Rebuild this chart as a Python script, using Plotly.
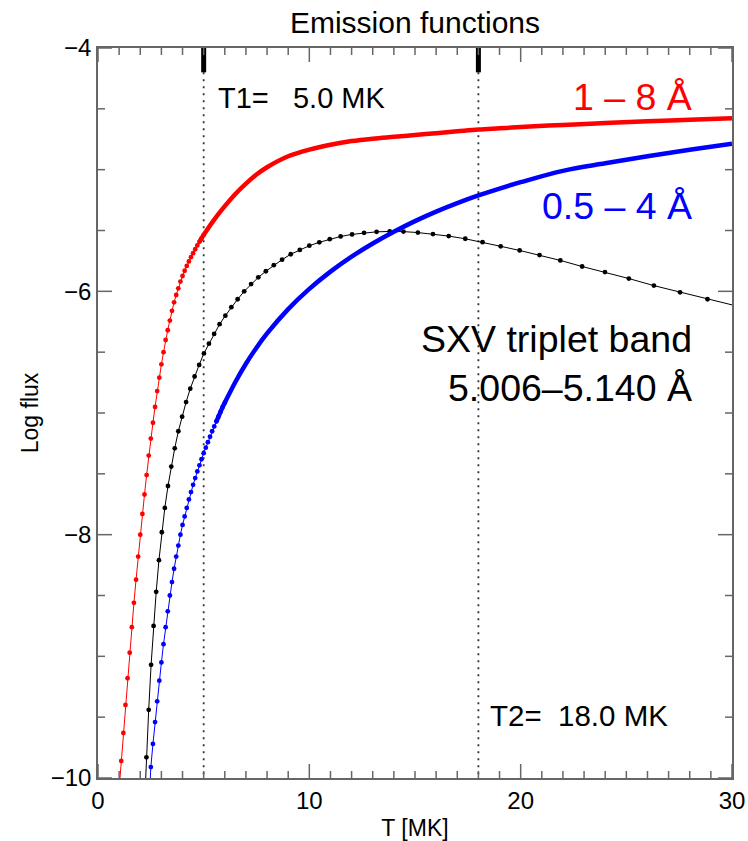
import plotly.graph_objects as go

# ---------------------------------------------------------------------------
# Emission functions: log flux vs temperature
# ---------------------------------------------------------------------------

# 1-8 A band (0.1 MK steps on the steep rise, coarser once the curve flattens)
red_T = [1.0, 1.1, 1.2, 1.3, 1.4, 1.5, 1.6, 1.7, 1.8, 1.9,
         2.0, 2.1, 2.2, 2.3, 2.4, 2.5, 2.6, 2.7, 2.8, 2.9,
         3.0, 3.1, 3.2, 3.3, 3.4, 3.5, 3.6, 3.7, 3.8, 3.9,
         4.0, 4.1, 4.2, 4.3, 4.4, 4.5, 4.6, 4.7, 4.8, 4.9,
         5.0, 5.5, 6.0, 6.5, 7.0, 7.5, 8.0, 9.0, 10.0, 11.0,
         12.0, 13.0, 14.0, 15.0, 16.0, 17.0, 18.0, 19.0, 20.0, 22.0,
         24.0, 26.0, 28.0, 30.0]
red_logflux = [-10.09, -9.86, -9.63, -9.40, -9.18, -8.97, -8.76, -8.56, -8.37, -8.18,
               -8.00, -7.83, -7.67, -7.51, -7.35, -7.21, -7.08, -6.95, -6.82, -6.71,
               -6.60, -6.50, -6.40, -6.32, -6.24, -6.16, -6.09, -6.03, -5.975, -5.92,
               -5.874, -5.831, -5.791, -5.754, -5.719, -5.686, -5.654, -5.623, -5.593, -5.564,
               -5.536, -5.41, -5.30, -5.20, -5.115, -5.04, -4.98, -4.89, -4.835, -4.795,
               -4.765, -4.745, -4.73, -4.715, -4.70, -4.685, -4.67, -4.66, -4.65, -4.632,
               -4.617, -4.603, -4.59, -4.578]

# 0.5-4 A band
blue_T = [2.4, 2.5, 2.6, 2.7, 2.8, 2.9, 3.0, 3.1, 3.2, 3.3,
          3.4, 3.5, 3.6, 3.7, 3.8, 3.9, 4.0, 4.1, 4.2, 4.3,
          4.4, 4.5, 4.6, 4.7, 4.8, 4.9, 5.0, 5.1, 5.2, 5.3,
          5.4, 5.5, 5.6, 5.7, 5.8, 5.9, 6.0, 6.5, 7.0, 7.5,
          8.0, 9.0, 10.0, 11.0, 12.0, 13.0, 14.0, 15.0, 16.0, 17.0,
          18.0, 19.0, 20.0, 22.0, 24.0, 26.0, 28.0, 30.0]
blue_logflux = [-10.30, -9.91, -9.72, -9.54, -9.37, -9.20, -9.05, -8.90, -8.76, -8.63,
                -8.50, -8.39, -8.28, -8.18, -8.09, -8.00, -7.92, -7.85, -7.78, -7.71,
                -7.65, -7.59, -7.535, -7.48, -7.43, -7.38, -7.33, -7.285, -7.24, -7.195,
                -7.15, -7.11, -7.07, -7.03, -6.99, -6.95, -6.915, -6.745, -6.595, -6.463,
                -6.346, -6.146, -5.98, -5.838, -5.715, -5.607, -5.51, -5.423, -5.345, -5.275,
                -5.212, -5.155, -5.103, -5.01, -4.948, -4.89, -4.836, -4.786]

# SXV triplet band 5.006-5.140 A (log T grid, 0.02 dex)
sxv_T = [2.188, 2.291, 2.399, 2.512, 2.630, 2.754, 2.884, 3.020, 3.162, 3.311,
         3.467, 3.631, 3.802, 3.981, 4.169, 4.365, 4.571, 4.786, 5.012, 5.248,
         5.495, 5.754, 6.026, 6.310, 6.607, 6.918, 7.244, 7.586, 7.943, 8.318,
         8.710, 9.120, 9.550, 10.000, 10.471, 10.965, 11.482, 12.023, 12.589, 13.183,
         13.804, 14.454, 15.136, 15.849, 16.596, 17.378, 18.197, 19.055, 19.953, 20.893,
         21.878, 22.909, 23.988, 25.119, 26.303, 27.542, 28.840, 30.200]
sxv_logflux = [-10.28, -9.83, -9.44, -9.07, -8.75, -8.47, -8.21, -7.98, -7.78, -7.60,
               -7.44, -7.29, -7.15, -7.03, -6.91, -6.80, -6.70, -6.605, -6.51, -6.43,
               -6.35, -6.27, -6.20, -6.13, -6.065, -6.00, -5.94, -5.885, -5.835, -5.785,
               -5.74, -5.695, -5.66, -5.625, -5.597, -5.571, -5.549, -5.532, -5.519, -5.511,
               -5.508, -5.509, -5.517, -5.529, -5.546, -5.568, -5.596, -5.630, -5.664, -5.702,
               -5.746, -5.796, -5.842, -5.895, -5.953, -6.008, -6.065, -6.12]

# Marked temperatures (MK)
T1 = 5.0
T2 = 18.0

x_ticks = [0, 10, 20, 30]
y_ticks = [-10, -8, -6, -4]
X_RANGE = [0, 30]
Y_RANGE = [-10, -4]
X_MINOR_STEP = 1
Y_MINOR_STEP = 0.5

FONT = "Liberation Sans, Arial, Helvetica, sans-serif"
RED = "#ff0000"
BLUE = "#0000ff"
AXIS = "#666666"
MAJOR_LEN, MINOR_LEN = 14, 7

# individual dots are only resolvable on the steep part of the broad-band curves;
# beyond the first limit the curve is drawn as a heavy line, below the second as dots
RED_LINE_FROM, RED_DOTS_UNTIL = 4.8, 5.0
BLUE_LINE_FROM, BLUE_DOTS_UNTIL = 5.6, 6.0

fig = go.Figure()

# T1 / T2 markers: dotted verticals with a short heavy bar at the top
for t in (T1, T2):
    fig.add_trace(go.Scatter(x=[t, t], y=[-4.2, -10], mode="lines",
                             line=dict(color="#333333", width=1.8, dash="2px,5px"),
                             hoverinfo="skip", showlegend=False))
    fig.add_trace(go.Scatter(x=[t, t], y=[-4, -4.2], mode="lines",
                             line=dict(color="black", width=5),
                             hoverinfo="skip", showlegend=False))

# SXV band
fig.add_trace(go.Scatter(x=sxv_T, y=sxv_logflux, mode="lines+markers",
                         line=dict(color="black", width=1),
                         marker=dict(color="black", size=4.8),
                         showlegend=False))

# broad bands
for ts, vs, line_from, dots_until, col in (
        (red_T, red_logflux, RED_LINE_FROM, RED_DOTS_UNTIL, RED),
        (blue_T, blue_logflux, BLUE_LINE_FROM, BLUE_DOTS_UNTIL, BLUE)):
    lo = [(t, v) for t, v in zip(ts, vs) if t <= dots_until]
    hi = [(t, v) for t, v in zip(ts, vs) if t >= line_from]
    fig.add_trace(go.Scatter(x=[p[0] for p in lo], y=[p[1] for p in lo],
                             mode="lines+markers",
                             line=dict(color=col, width=1),
                             marker=dict(color=col, size=4.8),
                             showlegend=False))
    fig.add_trace(go.Scatter(x=[p[0] for p in hi], y=[p[1] for p in hi],
                             mode="lines", line=dict(color=col, width=4.5, shape="spline"),
                             showlegend=False))

nb = "\u00a0"
annotations = [
    dict(x=T1 + 0.6, y=-4.41, text=f"T1={nb*3}{T1:.1f} MK", xanchor="left",
         font=dict(size=29, color="black")),
    dict(x=T2 + 0.45, y=-9.49, text=f"T2={nb*2}{T2:.1f} MK", xanchor="left",
         font=dict(size=29.5, color="black")),
    dict(x=28.2, y=-4.40, text="1 \u2013 8 \u00c5", xanchor="right",
         font=dict(size=37.5, color=RED)),
    dict(x=28.2, y=-5.30, text="0.5 \u2013 4 \u00c5", xanchor="right",
         font=dict(size=37.5, color=BLUE)),
    dict(x=28.2, y=-6.59, text="SXV triplet band<br>5.006\u20135.140 \u00c5",
         xanchor="right", align="right", font=dict(size=37.5, color="black")),
]
for a in annotations:
    a.update(xref="x", yref="y", showarrow=False, yanchor="middle")
    a["font"]["family"] = FONT

# IDL-style tick marks pointing into the box on all four sides
shapes = []
tick_line = dict(color=AXIS, width=1.5)
n_x = int(round((X_RANGE[1] - X_RANGE[0]) / X_MINOR_STEP))
for i in range(n_x + 1):
    xv = X_RANGE[0] + i * X_MINOR_STEP
    ln = MAJOR_LEN if xv in x_ticks else MINOR_LEN
    for anchor, sign in ((Y_RANGE[0], 1), (Y_RANGE[1], -1)):
        shapes.append(dict(type="line", xref="x", yref="y", x0=xv, x1=xv,
                           ysizemode="pixel", yanchor=anchor, y0=0, y1=sign * ln,
                           line=tick_line, layer="above"))
n_y = int(round((Y_RANGE[1] - Y_RANGE[0]) / Y_MINOR_STEP))
for i in range(n_y + 1):
    yv = Y_RANGE[0] + i * Y_MINOR_STEP
    ln = MAJOR_LEN if yv in y_ticks else MINOR_LEN
    for anchor, sign in ((X_RANGE[0], 1), (X_RANGE[1], -1)):
        shapes.append(dict(type="line", xref="x", yref="y", y0=yv, y1=yv,
                           xsizemode="pixel", xanchor=anchor, x0=0, x1=sign * ln,
                           line=tick_line, layer="above"))

fig.update_layout(
    width=748, height=841,
    margin=dict(l=98, r=16, t=48, b=63, autoexpand=False),
    paper_bgcolor="white", plot_bgcolor="white",
    font=dict(family=FONT, color="black"),
    title=dict(text="Emission functions", x=415 / 748, xanchor="center",
               y=1 - 22 / 841, yanchor="middle", font=dict(size=30)),
    annotations=annotations,
    shapes=shapes,
    showlegend=False,
)

frame = dict(showline=True, linecolor=AXIS, linewidth=1.5, mirror=True,
             showgrid=False, zeroline=False, automargin=False, ticks="")
fig.update_xaxes(range=X_RANGE, tickvals=x_ticks, tickfont=dict(size=24),
                 title=dict(text="T [MK]", font=dict(size=23), standoff=14), **frame)
fig.update_yaxes(range=Y_RANGE, tickvals=y_ticks, tickfont=dict(size=24),
                 title=dict(text="Log flux", font=dict(size=23), standoff=6), **frame)

fig.write_html("out.html")
